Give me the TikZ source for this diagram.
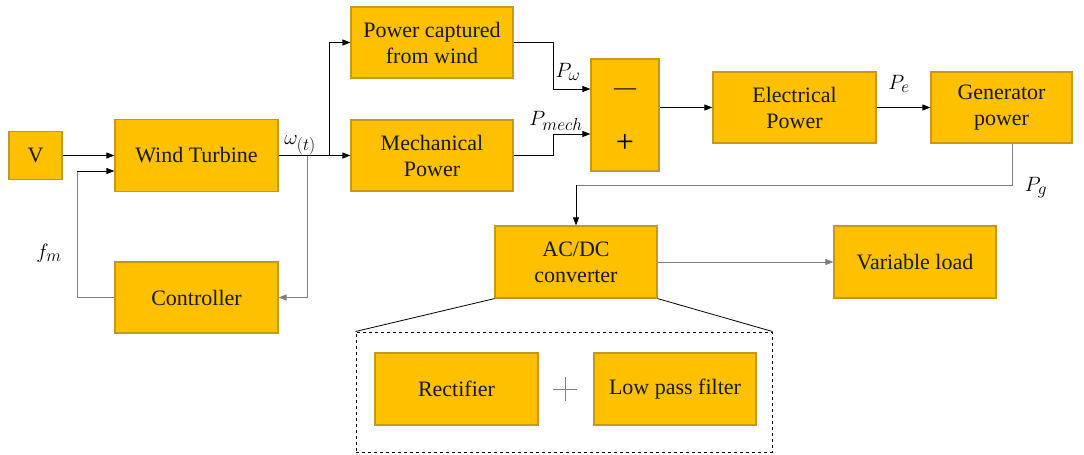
\documentclass[tikz,border=0pt]{standalone}
\usepackage{fontspec}
\newfontfamily\tnr{Liberation Serif}
\DeclareMathSizes{22}{22}{18}{14}
\usetikzlibrary{arrows.meta}
\definecolor{boxfill}{HTML}{FFC000}
\definecolor{boxline}{HTML}{C49A1C}
\definecolor{lgray}{HTML}{7F7F7F}
\begin{document}
\begin{tikzpicture}[x=1pt,y=-1pt,
  blk/.style={draw=boxline,line width=1.2pt,fill=boxfill,inner sep=0pt,align=center,
    font=\tnr\fontsize{22}{26}\selectfont,text=black!90},
  arr/.style={-{Triangle[length=8pt,width=6pt]},line width=0.8pt},
  plain/.style={line width=0.8pt},
  lbl/.style={inner sep=0pt,font=\fontsize{22}{26}\selectfont}]
\useasboundingbox (0,0) rectangle (1084,455);
% blocks
\node[blk,minimum width=53pt,minimum height=48pt] (V) at (35.5,155.5) {V};
\node[blk,minimum width=163pt,minimum height=72pt] (wt) at (196.5,155.5) {Wind Turbine};
\node[blk,minimum width=162pt,minimum height=71pt] (pc) at (432,42.5) {Power captured\\from wind};
\node[blk,minimum width=162pt,minimum height=71pt] (mp) at (432,155.5) {Mechanical\\Power};
\node[blk,minimum width=68pt,minimum height=112pt] (sum) at (625,115) {};
\node[inner sep=0pt,font=\tnr\fontsize{22}{24}\selectfont] (minus) at (625,92) {—};
\node[inner sep=0pt,font=\tnr\fontsize{32}{34}\selectfont] (plus) at (625,143) {+};
\node[blk,minimum width=163pt,minimum height=71pt] (ep) at (794.5,107.5) {Electrical\\Power};
\node[blk,minimum width=141pt,minimum height=71pt] (gp) at (1001.5,107.5) {Generator\\power};
\node[blk,minimum width=163pt,minimum height=71pt] (ctrl) at (196.5,297.5) {Controller};
\node[blk,minimum width=162pt,minimum height=72pt] (acdc) at (576,262) {AC/DC\\converter};
\node[blk,minimum width=162pt,minimum height=72pt] (vl) at (915,262) {Variable load};
\node[draw,dashed,line width=1pt,minimum width=416pt,minimum height=120pt,inner sep=0pt] (grp) at (564,392) {};
\node[blk,minimum width=163pt,minimum height=72pt] (rect) at (456.5,389) {Rectifier};
\node[blk,minimum width=162pt,minimum height=72pt] (lpf) at (675,389) {Low pass filter};
\coordinate (pl) at (565,389);
\draw[lgray,line width=0.7pt] ([xshift=-12pt]pl) -- ([xshift=12pt]pl) ([yshift=-12pt]pl) -- ([yshift=12pt]pl);
% labels
\node[lbl] (lw) at (300,145) {$\omega_{(t)}$};
\node[lbl] (lpw) at (568,72) {$P_\omega$};
\node[lbl] (lpm) at (556,121) {$P_{mech}$};
\node[lbl] (lpe) at (899,84) {$P_e$};
\node[lbl] (lpg) at (1036,188) {$P_g$};
\node[lbl] (lfm) at (49,253) {$f_m$};
% connectors
\draw[arr] (V.east) -- (wt.west);
\coordinate (fb) at (77,171);
\draw[plain,lgray] (ctrl.west) -| (fb);
\draw[arr] (fb) -- (fb -| wt.west);
\draw[arr] (wt.east) -- (mp.west);
\coordinate (br) at (329,155.5);
\draw[arr] (br) |- (pc.west);
\coordinate (dn) at (307,155.5);
\draw[arr,lgray] (dn) |- (ctrl.east);
\coordinate (jw) at (553,89);
\draw[arr] (pc.east) -| (jw) -- (jw -| sum.west);
\coordinate (jm) at (553,134);
\draw[arr] (mp.east) -| (jm) -- (jm -| sum.west);
\draw[arr] (sum.east |- ep.west) -- (ep.west);
\draw[arr] (ep.east) -- (gp.west);
\coordinate (pg) at (1012,185);
\draw[plain,lgray] (pg |- gp.south) -- (pg) -- (pg -| acdc.north);
\draw[arr] (pg -| acdc.north) -- (acdc.north);
\draw[arr,lgray] (acdc.east) -- (vl.west);
\draw[plain] (acdc.south west) -- (grp.north west);
\draw[plain] (acdc.south east) -- (grp.north east);
\end{tikzpicture}
\end{document}
